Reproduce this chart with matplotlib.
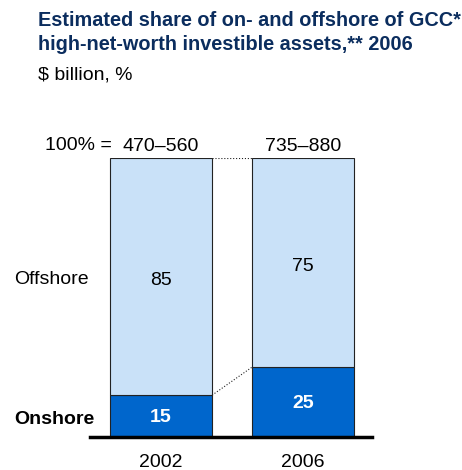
import matplotlib.pyplot as plt

plt.rcParams['font.family'] = ['Liberation Sans', 'DejaVu Sans']

years = ['2002', '2006']
onshore = [15, 25]
offshore = [85, 75]
totals = ['470–560', '735–880']

light = '#C9E1F8'
dark = '#0066CC'
navy = '#0B2D5E'

W, H = 462, 470
fig = plt.figure(figsize=(W / 100, H / 100), dpi=100)

# axes placed in pixel coords: x 90..372, y 158..437
ax = fig.add_axes([90 / W, 1 - 437 / H, 282 / W, 279 / H])
ax.set_xlim(-0.5, 1.486)
ax.set_ylim(0, 100)
ax.axis('off')

x = [0, 1]
bw = 0.72
ax.bar(x, onshore, width=bw, color=dark, edgecolor='#222222', linewidth=0.8)
ax.bar(x, offshore, width=bw, bottom=onshore, color=light, edgecolor='#222222', linewidth=0.8)

# dotted connectors between bars
ax.plot([bw / 2, 1 - bw / 2], [100, 100], color='#222222', lw=0.8, ls=':')
ax.plot([bw / 2, 1 - bw / 2], [onshore[0], onshore[1]], color='#222222', lw=0.8, ls=':')
ax.axhline(0, xmin=0, xmax=1, color='black', lw=2.5, clip_on=False)

fs = 14
for i in x:
    ax.text(i, onshore[i] / 2 - 0.5, str(onshore[i]), ha='center', va='center',
            color='white', fontsize=fs, fontweight='bold')
    ax.text(i, onshore[i] + offshore[i] / 2 - 1.5, str(offshore[i]), ha='center', va='center',
            color='black', fontsize=fs)
    ax.text(i, 104.3, totals[i], ha='center', va='center', fontsize=fs)
    ax.text(i, -9, years[i], ha='center', va='center', fontsize=fs)

fig.text(45 / W, 1 - 146 / H, '100% =', ha='left', va='center', fontsize=fs)
fig.text(14 / W, 1 - 280 / H, 'Offshore', ha='left', va='center', fontsize=fs)
fig.text(14 / W, 1 - 420 / H, 'Onshore', ha='left', va='center', fontsize=fs, fontweight='bold')

fig.text(38 / W, 1 - 20 / H, 'Estimated share of on- and offshore of GCC*',
         ha='left', va='center', fontsize=14.3, fontweight='bold', color=navy)
fig.text(38 / W, 1 - 44 / H, 'high-net-worth investible assets,** 2006',
         ha='left', va='center', fontsize=14.3, fontweight='bold', color=navy)
fig.text(38 / W, 1 - 75 / H, '$ billion, %', ha='left', va='center', fontsize=fs)

fig.savefig('out.png', dpi=100)
